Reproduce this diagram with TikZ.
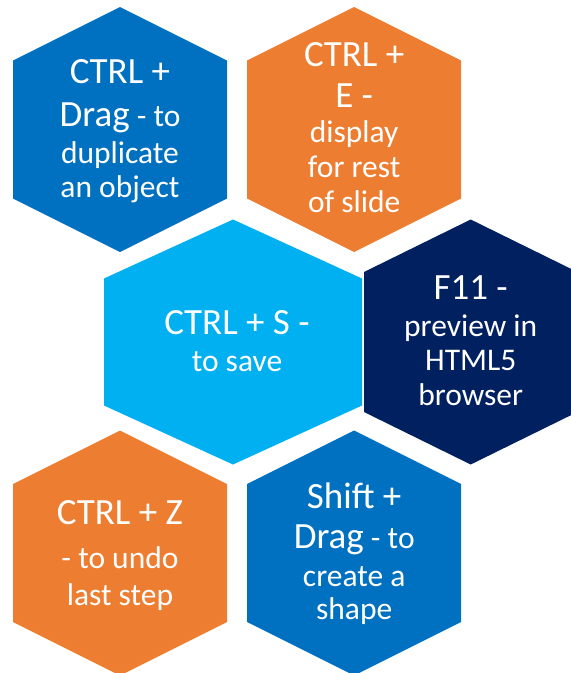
\documentclass[tikz,border=0pt]{standalone}
\usepackage{fontspec}
\setmainfont{Carlito}
\usetikzlibrary{positioning}
\definecolor{keyblue}{HTML}{0070C0}
\definecolor{keyorange}{HTML}{ED7D31}
\definecolor{keycyan}{HTML}{00B0F0}
\definecolor{keynavy}{HTML}{002060}
\newcommand{\keyfont}{\fontsize{37}{35}\selectfont} % size of the shortcut keys
\newcommand{\tipfont}{\fontsize{31.5}{35}\selectfont} % size of the explanations
% hexagon round a centre: centre, half width, half height of the upright sides, colour
\newcommand{\hexcell}[4]{%
\fill[#4] (#1) ++(0,-122.5) -- ++(#2,122.5-#3) -- ++(0,2*#3) -- ++(-#2,122.5-#3)
-- ++(-#2,-122.5+#3) -- ++(0,-2*#3) -- cycle;}
\tikzset{x=1pt, y=-1pt, % one unit is one pixel, y runs downwards
hexlabel/.style={ % text inside a hexagon
text=white,
inner sep=0pt,
align=center,
font=\tipfont}}

\begin{document}
\begin{tikzpicture}
\useasboundingbox (0,0) rectangle (571,673);
\clip (0,0) rectangle (571,673);
\coordinate (c1) at (120,129.5);
\coordinate[right=234.2pt of c1] (c2);
\coordinate[below right=212.5pt and 113pt of c1] (c3);
\coordinate[right=237.7pt of c3] (c4);
\coordinate[below=423.5pt of c1] (c5);
\coordinate[right=234.2pt of c5] (c6);
\hexcell{c1}{107}{69}{keyblue}
\hexcell{c2}{107}{69}{keyorange}
\hexcell{c3}{129}{63.5}{keycyan}
\hexcell{c4}{106.7}{70}{keynavy}
\hexcell{c5}{107}{69}{keyorange}
\hexcell{c6}{107}{69}{keyblue}
\node[hexlabel, yshift=-2pt] (dragcopy) at (c1) {{\keyfont CTRL +}\\[8pt]{\keyfont Drag} - to\\[2pt]duplicate\\[-1pt]an object};
\node[hexlabel, yshift=1.6pt] (showrest) at (c2) {{\keyfont CTRL +}\\[6pt]{\keyfont E -}\\display\\for rest\\of slide};
\node[hexlabel, xshift=4pt, yshift=1.3pt] (save) at (c3) {{\keyfont CTRL + S -}\\[2pt]to save};
\node[hexlabel, yshift=1.6pt] (preview) at (c4) {{\keyfont F11 -}\\[2pt]preview in\\[-1pt]HTML5\\browser};
\node[hexlabel, yshift=-3pt] (undo) at (c5) {{\keyfont CTRL + Z}\\[9pt]- to undo\\[2pt]last step};
\node[hexlabel, yshift=-1.1pt] (shapedraw) at (c6) {{\keyfont Shift +}\\[5pt]{\keyfont Drag} - to\\[3pt]create a\\[-2pt]shape};
\end{tikzpicture}
\end{document}
